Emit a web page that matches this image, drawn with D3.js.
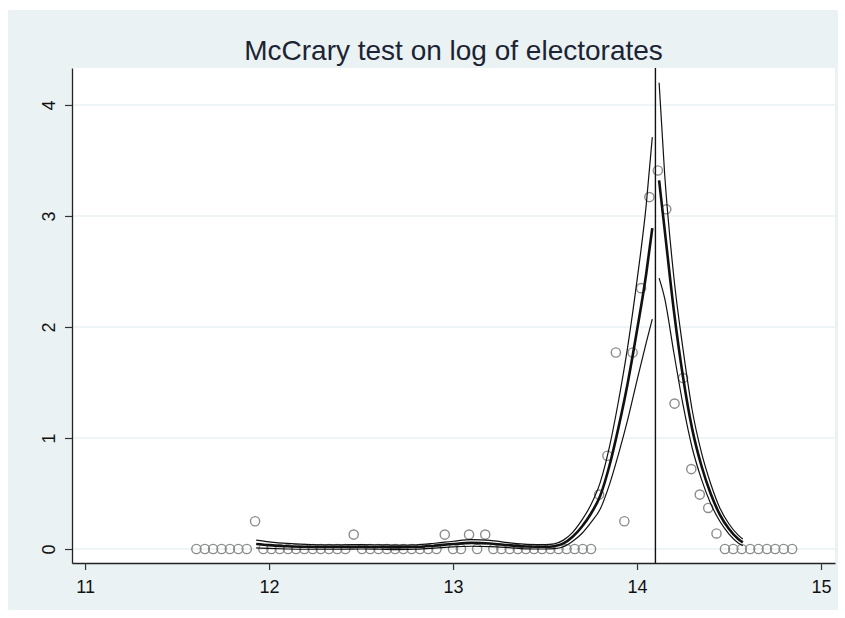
<!DOCTYPE html>
<html>
<head>
<meta charset="utf-8">
<style>
	body { margin: 0; background: #fff; }
	text { font-family: "Liberation Sans", Arial, sans-serif; }
</style>
</head>
<body>
<svg width="845" height="618"></svg>
<script src="https://d3js.org/d3.v7.min.js"></script>
<script>

	// Bin midpoints and bin heights (circles).
	var binX = [11.605, 11.651, 11.696, 11.742, 11.787, 11.833, 11.879, 11.924,
		11.969, 12.013, 12.058, 12.103, 12.147, 12.192, 12.237, 12.281, 12.326, 12.371, 12.415, 12.460,
		12.505, 12.550, 12.595, 12.640, 12.685, 12.730, 12.775, 12.820, 12.865, 12.910, 12.955,
		13.000, 13.043, 13.087, 13.131, 13.175,
		13.219, 13.263, 13.308, 13.352, 13.396, 13.440, 13.484, 13.529, 13.573, 13.617, 13.661, 13.705, 13.750, 13.794,
		13.839, 13.885, 13.931, 13.976, 14.022, 14.067, 14.113, 14.159, 14.204, 14.250, 14.295, 14.341,
		14.387, 14.432, 14.478, 14.523, 14.569, 14.615, 14.660, 14.706, 14.751, 14.797, 14.843];
	var binY = [0, 0, 0, 0, 0, 0, 0, 0.25,
		0, 0, 0, 0, 0, 0, 0, 0, 0, 0, 0, 0.13,
		0, 0, 0, 0, 0, 0, 0, 0, 0, 0, 0.13,
		0, 0, 0.13, 0, 0.13,
		0, 0, 0, 0, 0, 0, 0, 0, 0, 0, 0, 0, 0, 0.49,
		0.84, 1.77, 0.25, 1.77, 2.35, 3.17, 3.41, 3.06, 1.31, 1.54, 0.72, 0.49,
		0.37, 0.14, 0, 0, 0, 0, 0, 0, 0, 0, 0];

	// Fitted density left of the cutoff, with its confidence band.
	var leftX   = [11.93, 12.0, 12.1, 12.2, 12.3, 12.4, 12.5, 12.6, 12.7, 12.8, 12.9, 13.0, 13.1, 13.2, 13.3,
		13.4, 13.5, 13.55, 13.6, 13.65, 13.7, 13.75, 13.8, 13.85, 13.9, 13.95, 14.0, 14.05, 14.083];
	var leftFit = [0.045, 0.035, 0.025, 0.020, 0.018, 0.018, 0.020, 0.018, 0.015, 0.018, 0.030, 0.045, 0.055, 0.050, 0.035,
		0.022, 0.020, 0.025, 0.050, 0.110, 0.200, 0.320, 0.480, 0.750, 1.100, 1.500, 1.970, 2.480, 2.890];
	var leftLo  = [0.010, 0.005, 0.000, -0.002, -0.002, -0.002, 0.000, -0.002, -0.005, -0.002, 0.008, 0.020, 0.025, 0.022, 0.013,
		0.002, 0.000, 0.003, 0.020, 0.070, 0.140, 0.240, 0.360, 0.580, 0.860, 1.170, 1.520, 1.860, 2.070];
	var leftHi  = [0.080, 0.065, 0.050, 0.042, 0.038, 0.038, 0.040, 0.038, 0.035, 0.038, 0.052, 0.070, 0.085, 0.078, 0.057,
		0.042, 0.040, 0.047, 0.080, 0.150, 0.260, 0.400, 0.600, 0.920, 1.340, 1.830, 2.420, 3.100, 3.710];

	// Fitted density right of the cutoff, with its confidence band.
	var rightX   = [14.12, 14.15, 14.2, 14.25, 14.3, 14.35, 14.4, 14.45, 14.5, 14.55, 14.575];
	var rightFit = [3.32, 2.88, 2.15, 1.55, 1.08, 0.75, 0.50, 0.31, 0.18, 0.09, 0.06];
	var rightLo  = [2.44, 2.26, 1.77, 1.30, 0.91, 0.63, 0.41, 0.25, 0.135, 0.055, 0.03];
	var rightHi  = [4.20, 3.38, 2.45, 1.80, 1.25, 0.87, 0.59, 0.37, 0.225, 0.125, 0.09];

	var cutoff = 14.1;
	var xTicks = [11, 12, 13, 14, 15],
		yTicks = [0, 1, 2, 3, 4];
	var title = "McCrary test on log of electorates";

	// Set up svg.
	var svg = d3.select("svg"),
		bg = "#eaf2f3",
		plot = {left: 72, right: 835, top: 68, bottom: 563};

	svg.append("rect")
		.attr("x", 8).attr("y", 10)
		.attr("width", 830).attr("height", 600)
		.style("fill", bg);

	svg.append("rect")
		.attr("x", plot.left).attr("y", plot.top)
		.attr("width", plot.right - plot.left).attr("height", plot.bottom - plot.top)
		.style("fill", "#fff");

	var x = d3.scaleLinear()
		.domain([10.929, 15.076])
		.range([plot.left, plot.right]);

	var y = d3.scaleLinear()
		.domain([-0.126, 4.333])
		.range([plot.bottom, plot.top]);

	// Grid lines.
	svg.append("g").selectAll("line")
		.data(yTicks)
		.enter().append("line")
			.attr("x1", plot.left).attr("x2", plot.right)
			.attr("y1", function(d) {return y(d);})
			.attr("y2", function(d) {return y(d);})
			.style("stroke", bg)
			.style("stroke-width", 1.5);

	// Circles for the bins.
	svg.append("g").selectAll("circle")
		.data(binX)
		.enter().append("circle")
			.attr("cx", function(d) {return x(d);})
			.attr("cy", function(d, i) {return y(binY[i]);})
			.attr("r", 4.6)
			.style("fill", "none")
			.style("stroke", "#8c8c8c")
			.style("stroke-width", 1.4);

	// Density lines.
	function drawLine(xs, ys, w) {
		var line = d3.line()
			.x(function(d, i) {return x(xs[i]);})
			.y(function(d) {return y(d);})
			.curve(d3.curveMonotoneX);
		svg.append("path")
			.attr("d", line(ys))
			.style("fill", "none")
			.style("stroke", "#111")
			.style("stroke-width", w);
	}

	drawLine(leftX, leftLo, 1.2);
	drawLine(leftX, leftHi, 1.2);
	drawLine(leftX, leftFit, 2.6);
	drawLine(rightX, rightLo, 1.2);
	drawLine(rightX, rightHi, 1.2);
	drawLine(rightX, rightFit, 2.6);

	// Cutoff line.
	svg.append("line")
		.attr("x1", x(cutoff)).attr("x2", x(cutoff))
		.attr("y1", plot.top).attr("y2", plot.bottom)
		.style("stroke", "#111")
		.style("stroke-width", 1.4);

	// Axes.
	var xAxis = svg.append("g")
		.attr("transform", "translate(0," + plot.bottom + ")")
		.call(d3.axisBottom(x).tickValues(xTicks).tickFormat(d3.format("d"))
			.tickSize(7).tickPadding(10).tickSizeOuter(0));

	var yAxis = svg.append("g")
		.attr("transform", "translate(" + plot.left + ",0)")
		.call(d3.axisLeft(y).tickValues(yTicks).tickFormat(d3.format("d"))
			.tickSize(7).tickSizeOuter(0));

	svg.selectAll(".domain").style("stroke", "#222").style("stroke-width", 1.3);
	svg.selectAll(".tick line").style("stroke", "#333").style("stroke-width", 1.2);
	xAxis.selectAll("text")
		.style("font-size", "18px")
		.style("fill", "#111")
		.style("font-family", "'Liberation Sans', Arial, sans-serif");

	// Stata puts the y labels on their side.
	yAxis.selectAll("text")
		.attr("x", null).attr("dy", null)
		.attr("transform", "translate(-17,0) rotate(-90)")
		.attr("text-anchor", "middle")
		.style("font-size", "18px")
		.style("fill", "#111")
		.style("font-family", "'Liberation Sans', Arial, sans-serif");

	// Title.
	svg.append("text")
		.attr("x", (plot.left + plot.right) / 2)
		.attr("y", 60)
		.attr("text-anchor", "middle")
		.style("font-size", "28px")
		.style("fill", "#1c2433")
		.text(title);

</script>
</body>
</html>
